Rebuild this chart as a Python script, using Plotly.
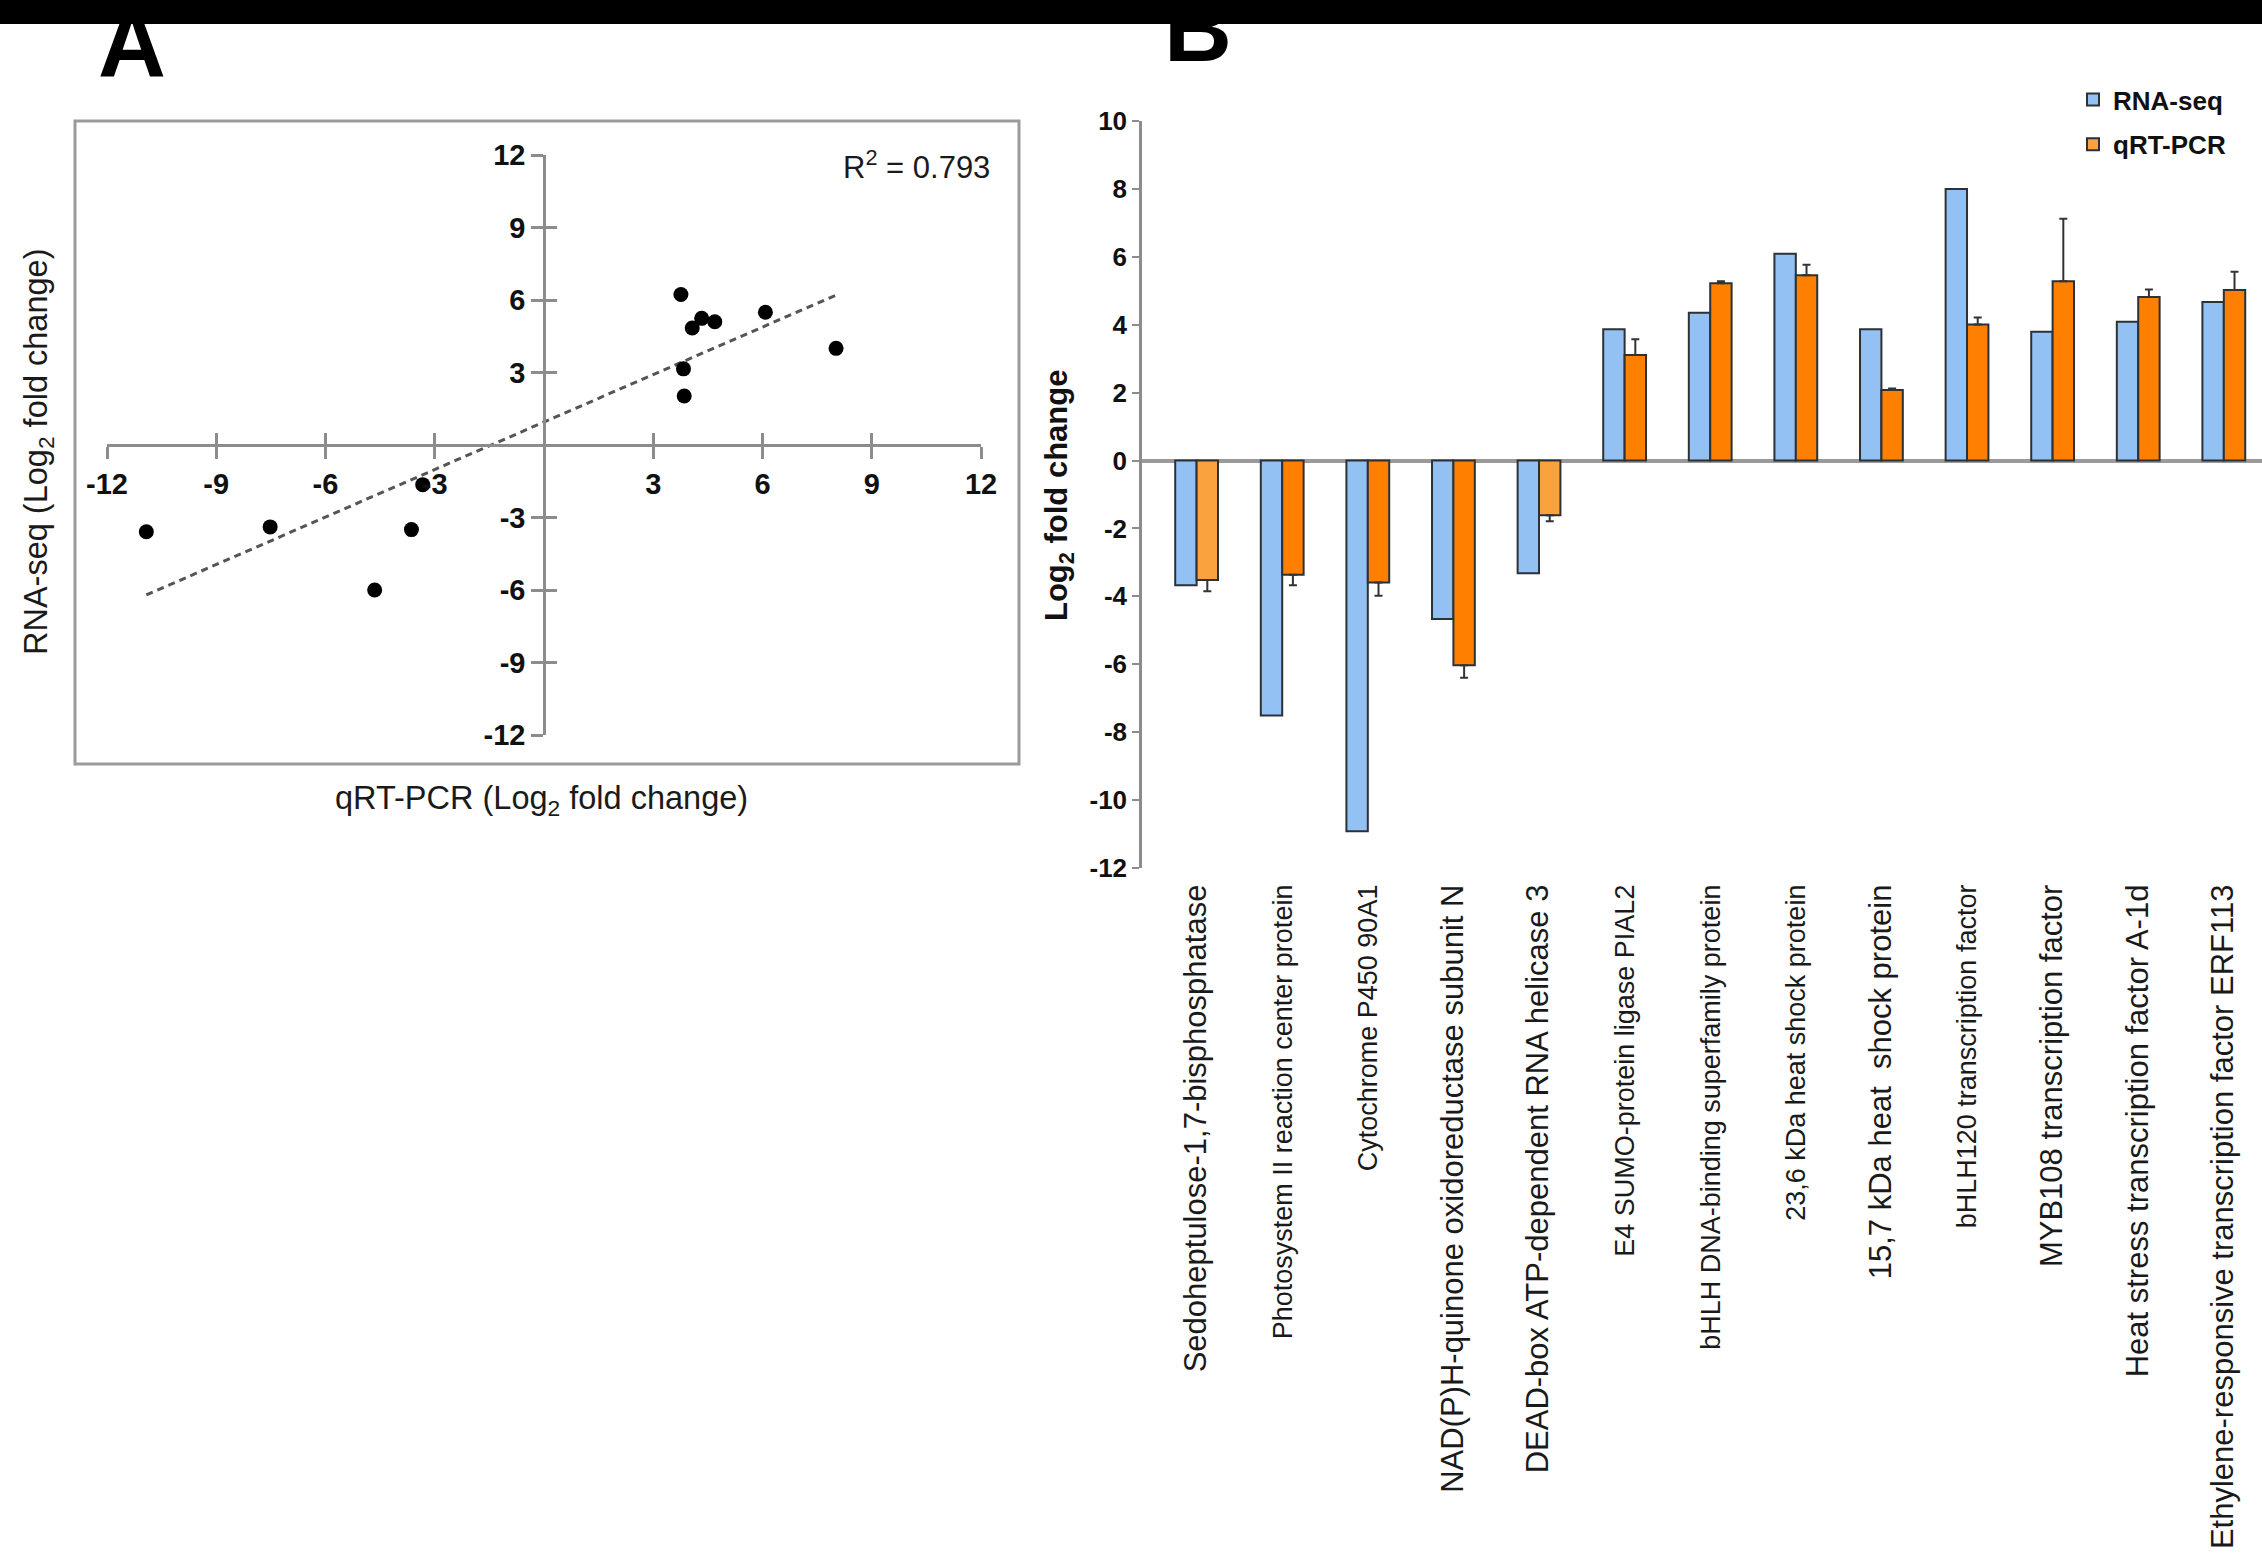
import numpy as np
import plotly.graph_objects as go

W, H = 2262, 1556

# ---------------- data ----------------
genes = [
    "Sedoheptulose-1,7-bisphosphatase",
    "Photosystem II reaction center protein",
    "Cytochrome P450 90A1",
    "NAD(P)H-quinone oxidoreductase subunit N",
    "DEAD-box ATP-dependent RNA helicase 3",
    "E4 SUMO-protein ligase PIAL2",
    "bHLH DNA-binding superfamily protein",
    "23,6 kDa heat shock protein",
    "15,7 kDa heat  shock protein",
    "bHLH120 transcription factor",
    "MYB108 transcription factor",
    "Heat stress transcription factor A-1d",
    "Ethylene-responsive transcription factor ERF113",
]
rna_seq = [-3.67, -7.51, -10.92, -4.67, -3.32, 3.87, 4.35, 6.09, 3.87, 8.00, 3.79, 4.09, 4.67]
qrt_pcr = [-3.52, -3.36, -3.59, -6.03, -1.61, 3.11, 5.22, 5.46, 2.08, 4.01, 5.28, 4.82, 5.02]
qrt_err = [0.33, 0.31, 0.39, 0.37, 0.18, 0.46, 0.06, 0.31, 0.04, 0.20, 1.84, 0.22, 0.54]

scatter_x = [-10.92, -7.52, -4.65, -3.64, -3.33, 3.76, 3.83, 3.85, 4.07, 4.33, 4.69, 6.08, 8.02]
scatter_y = [-3.59, -3.39, -6.00, -3.50, -1.64, 6.23, 3.15, 2.03, 4.84, 5.24, 5.10, 5.49, 4.00]

a_ticks = [-12, -9, -6, -3, 3, 6, 9, 12]
a_ticklabels = ["-12", "-9", "-6", "-3", "3", "6", "9", "12"]
b_ticks = [10, 8, 6, 4, 2, 0, -2, -4, -6, -8, -10, -12]
b_ticklabels = ["10", "8", "6", "4", "2", "0", "-2", "-4", "-6", "-8", "-10", "-12"]
r2_text = "R<sup>2</sup> = 0.793"

# ---------------- styles ----------------
FONT = "Liberation Sans, Arial, Helvetica, sans-serif"
large_label = [True, False, False, True, True, False, False, False, True, False, True, True, True]
qrt_light = [True, False, False, False, True, False, False, False, False, False, False, False, False]
BLUE = "#93c1f4"
ORANGE = "#ff8000"
ORANGE_LIGHT = "#f9a23e"
OUTLINE = "#2c3136"
AXIS_GRAY = "#8c8c8c"


def px(p):
    return p / W


def py(p):
    return 1 - p / H


# ---------------- panel A geometry ----------------
ax_dom = [px(107), px(981)]
ay_dom = [py(735), py(155)]
a_xpos = ax_dom[0] + (0 - (-12)) / 24 * (ax_dom[1] - ax_dom[0])  # x=0 in paper
a_ypos = ay_dom[0] + (0 - (-12)) / 24 * (ay_dom[1] - ay_dom[0])  # y=0 in paper

# ---------------- panel B geometry ----------------
bx_dom = [px(1142), 1.0]
by_dom = [py(868), py(121)]

fig = go.Figure()

# regression line (least-squares fit of the scatter data)
slope, intercept = np.polyfit(scatter_x, scatter_y, 1)
fx = np.array([min(scatter_x), max(scatter_x)])
fig.add_trace(go.Scatter(
    x=fx, y=slope * fx + intercept, mode="lines",
    line=dict(color="#555555", width=3, dash="7px,5px"),
    showlegend=False, hoverinfo="skip", xaxis="x", yaxis="y",
))
# scatter points
fig.add_trace(go.Scatter(
    x=scatter_x, y=scatter_y, mode="markers",
    marker=dict(color="black", size=15),
    showlegend=False, xaxis="x3", yaxis="y3",
))

# bars
err_up = [e if v > 0 else 0 for v, e in zip(qrt_pcr, qrt_err)]
err_dn = [e if v < 0 else 0 for v, e in zip(qrt_pcr, qrt_err)]
fig.add_trace(go.Bar(
    x=genes, y=rna_seq, name="RNA-seq",
    marker=dict(color=BLUE, line=dict(color=OUTLINE, width=2)),
    xaxis="x2", yaxis="y2", legendgroup="a",
))
fig.add_trace(go.Bar(
    x=genes, y=qrt_pcr, name="qRT-PCR",
    marker=dict(color=[ORANGE_LIGHT if l else ORANGE for l in qrt_light],
                line=dict(color=OUTLINE, width=2)),
    error_y=dict(type="data", symmetric=False, array=err_up, arrayminus=err_dn,
                 color="#333333", thickness=2, width=4),
    xaxis="x2", yaxis="y2", legendgroup="b",
))

ticktext = [
    f'<span style="font-size:{31 if big else 27}px">{g}</span>'
    for g, big in zip(genes, large_label)
]

tick_a = dict(family=FONT, size=29, color="#111111", weight="bold")

fig.update_layout(
    template="none",
    width=W, height=H,
    margin=dict(l=0, r=0, t=0, b=0),
    paper_bgcolor="white", plot_bgcolor="rgba(0,0,0,0)",
    font=dict(family=FONT, color="#111111"),
    barmode="group", bargap=0.5, bargroupgap=0,
    showlegend=True,
    legend=dict(
        x=px(2073), y=py(76), xanchor="left", yanchor="top",
        font=dict(family=FONT, size=26, color="#111111", weight="bold"),
        bgcolor="rgba(0,0,0,0)", tracegroupgap=8,
    ),
    # ---- panel A axes ----
    xaxis=dict(
        domain=ax_dom, range=[-12, 12], anchor="free", position=a_ypos,
        tickmode="array", tickvals=a_ticks, ticktext=a_ticklabels,
        ticks="outside", ticklen=12, tickwidth=2.5, tickcolor=AXIS_GRAY,
        showline=True, linecolor=AXIS_GRAY, linewidth=2.5,
        showgrid=False, zeroline=False, tickfont=tick_a, automargin=False,
    ),
    yaxis=dict(
        domain=ay_dom, range=[-12, 12], anchor="free", position=a_xpos,
        tickmode="array", tickvals=a_ticks, ticktext=a_ticklabels,
        ticks="outside", ticklen=12, tickwidth=2.5, tickcolor=AXIS_GRAY,
        showline=True, linecolor=AXIS_GRAY, linewidth=2.5,
        showgrid=False, zeroline=False, tickfont=tick_a, automargin=False,
    ),
    xaxis3=dict(
        overlaying="x", range=[-12, 12], anchor="free", position=a_ypos,
        tickmode="array", tickvals=a_ticks, ticks="inside", ticklen=12,
        tickwidth=2.5, tickcolor=AXIS_GRAY,
        showticklabels=False, showline=False, showgrid=False, zeroline=False,
        automargin=False,
    ),
    yaxis3=dict(
        overlaying="y", range=[-12, 12], anchor="free", position=a_xpos,
        tickmode="array", tickvals=a_ticks, ticks="inside", ticklen=12,
        tickwidth=2.5, tickcolor=AXIS_GRAY,
        showticklabels=False, showline=False, showgrid=False, zeroline=False,
        automargin=False,
    ),
    # ---- panel B axes ----
    xaxis2=dict(
        domain=bx_dom, anchor="y2", range=[-0.638, 12.446],
        tickmode="array", tickvals=genes, ticktext=ticktext, tickangle=-90,
        ticks="outside", ticklen=4, tickcolor="rgba(0,0,0,0)",
        tickfont=dict(family=FONT, size=29, color="#1a1a1a"),
        showline=False, showgrid=False, zeroline=False, automargin=False,
    ),
    yaxis2=dict(
        domain=by_dom, anchor="x2", range=[-12, 10],
        tickmode="array", tickvals=b_ticks, ticktext=b_ticklabels,
        ticks="outside", ticklen=7, tickwidth=2, tickcolor=AXIS_GRAY,
        showline=True, linecolor=AXIS_GRAY, linewidth=2.5,
        zeroline=True, zerolinecolor="#9a9a9a", zerolinewidth=4,
        showgrid=False,
        tickfont=dict(family=FONT, size=26, color="#111111", weight="bold"),
        automargin=False,
    ),
    shapes=[
        dict(type="rect", xref="paper", yref="paper",
             x0=px(75), x1=px(1019), y0=py(764), y1=py(121),
             line=dict(color="#9b9b9b", width=3), fillcolor="rgba(0,0,0,0)",
             layer="below"),
        dict(type="rect", xref="paper", yref="paper",
             x0=0, x1=1, y0=py(24), y1=1,
             line=dict(width=0), fillcolor="black", layer="above"),
    ],
    annotations=[
        dict(text="<b>A</b>", x=px(96), y=py(99), xref="paper", yref="paper",
             xanchor="left", yanchor="bottom", showarrow=False,
             font=dict(family=FONT, size=94, color="black")),
        dict(text="<b>B</b>", x=px(1162), y=py(83), xref="paper", yref="paper",
             xanchor="left", yanchor="bottom", showarrow=False,
             font=dict(family=FONT, size=94, color="black")),
        dict(text=r2_text, x=px(916), y=py(165), xref="paper", yref="paper",
             xanchor="center", yanchor="middle", showarrow=False,
             font=dict(family=FONT, size=31, color="#1a1a1a")),
        dict(text="qRT-PCR (Log<sub>2</sub> fold change)", x=px(541), y=py(800),
             xref="paper", yref="paper", xanchor="center", yanchor="middle",
             showarrow=False, font=dict(family=FONT, size=32.5, color="#1a1a1a")),
        dict(text="RNA-seq (Log<sub>2</sub> fold change)", x=px(38), y=py(452),
             xref="paper", yref="paper", xanchor="center", yanchor="middle",
             textangle=-90, showarrow=False,
             font=dict(family=FONT, size=32.5, color="#1a1a1a")),
        dict(text="<b>Log<sub>2</sub> fold change</b>", x=px(1059), y=py(496),
             xref="paper", yref="paper", xanchor="center", yanchor="middle",
             textangle=-90, showarrow=False,
             font=dict(family=FONT, size=31, color="#111111")),
    ],
)

fig.write_html(
    "out.html",
    config={"displayModeBar": False},
    post_script="document.body.style.margin='0px';"
                "document.documentElement.style.overflow='hidden';",
)
